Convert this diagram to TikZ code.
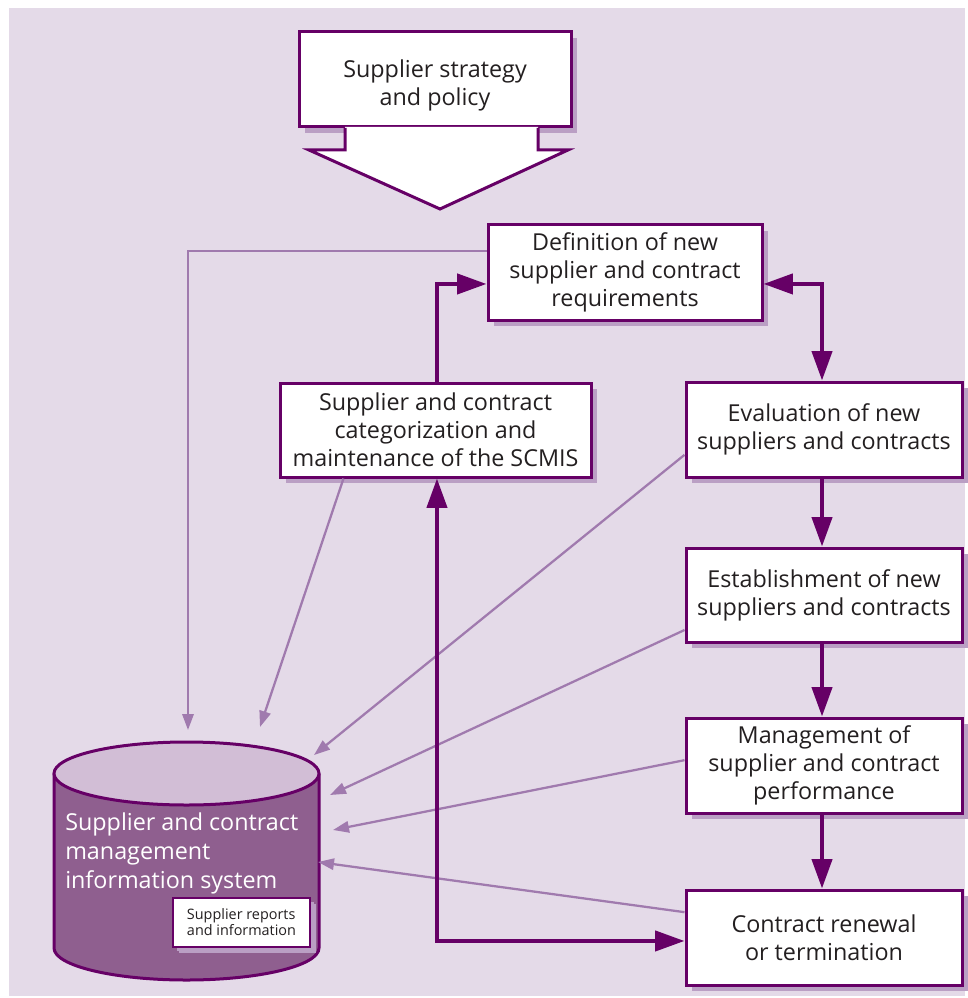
\documentclass[tikz,border=0pt]{standalone}
\usepackage{fontspec}
\setmainfont{Open Sans}
\usetikzlibrary{arrows.meta,shadows}
\definecolor{bg}{HTML}{E4DAE8}
\definecolor{dark}{HTML}{660066}
\definecolor{light}{HTML}{A07AAE}
\definecolor{shad}{HTML}{BA9FC4}
\definecolor{cylside}{HTML}{8F5F8F}
\definecolor{cyltop}{HTML}{D2BED6}
\definecolor{txt}{HTML}{231F20}
\tikzset{
  procbox/.style={draw=dark, line width=2.25pt, fill=white, text=txt, align=center,
    font=\fontsize{17.5}{21}\selectfont, inner sep=0pt,
    drop shadow={shadow xshift=4.5pt, shadow yshift=-4.5pt, fill=shad, opacity=1}},
  darkarr/.style={draw=dark, line width=3pt, -{Triangle[length=22pt,width=15pt]}},
  lightarr/.style={draw=light, line width=1.7pt, -{Triangle[length=12pt,width=8.5pt]}},
}
\begin{document}
\begin{tikzpicture}[x=0.75pt,y=-0.75pt]
\useasboundingbox (0,0) rectangle (967,998);
\fill[bg] (9,8) rectangle (965,996);

% top box and big arrow
\node[procbox, minimum width=272*0.75pt, minimum height=95*0.75pt] (strat) at (435,79.5) {\raisebox{-4.5pt}[\height][\depth]{\parbox{180pt}{\centering Supplier strategy\\and policy}}};
\fill[white] (345,127) -- (345,150) -- (309,150) -- (440,209) -- (568,150) -- (538,150) -- (538,127) -- cycle;
\draw[dark, line width=2.25pt, line join=miter] (345,128) -- (345,150) -- (309,150) -- (440,209) -- (568,150) -- (538,150) -- (538,128);

% process boxes
\node[procbox, minimum width=274*0.75pt, minimum height=95*0.75pt] (def) at (625,272.5) {Definition of new\\supplier and contract\\requirements};
\node[procbox, minimum width=311*0.75pt, minimum height=94*0.75pt] (cat) at (435.5,430) {Supplier and contract\\categorization and\\maintenance of the SCMIS};
\node[procbox, minimum width=276*0.75pt, minimum height=95*0.75pt] (eval) at (824,429.5) {Evaluation of new\\suppliers and contracts};
\node[procbox, minimum width=276*0.75pt, minimum height=94*0.75pt] (est) at (824,595) {Establishment of new\\suppliers and contracts};
\node[procbox, minimum width=276*0.75pt, minimum height=95*0.75pt] (mgmt) at (824,765.5) {Management of\\supplier and contract\\performance};
\node[procbox, minimum width=276*0.75pt, minimum height=95*0.75pt] (renew) at (824,937.5) {Contract renewal\\or termination};

% cylinder
\fill[cylside] (54,773.5) -- (54,948) arc[start angle=180, end angle=0, x radius=132.5, y radius=32] -- (319,773.5) -- cycle;
\draw[dark, line width=2.25pt] (54,773.5) -- (54,948) arc[start angle=180, end angle=0, x radius=132.5, y radius=32] -- (319,773.5);
\draw[dark, line width=2.25pt, fill=cyltop] (186.5,773.5) ellipse [x radius=132.5, y radius=31.5];
\node[anchor=north west, text=white, align=left, font=\fontsize{17.5}{21.75}\selectfont, inner sep=0pt] (cyltext) at (65,812) {Supplier and contract\\management\\information system};
\node[procbox, font=\fontsize{10.8}{12}\selectfont, align=left, minimum width=137*0.75pt, minimum height=49*0.75pt, line width=1.5pt, drop shadow={shadow xshift=3pt, shadow yshift=-3pt, fill=shad, opacity=1}] (rep) at (241.5,922.5) {Supplier reports\\and information};

\coordinate (c1) at (188,730);
\coordinate (c2) at (260,727);
\coordinate (c3) at (314,755);
\coordinate (c4) at (330,795);
\coordinate (c5) at (333,830);
\coordinate (c6) at (318,862);

% light connectors
\draw[lightarr] ([yshift=16pt]def.west) -| (c1);
\draw[lightarr] ([xshift=48.75pt]cat.south west) -- (c2);
\draw[lightarr] ([yshift=-19pt]eval.west) -- (c3);
\draw[lightarr] ([yshift=-26.25pt]est.west) -- (c4);
\draw[lightarr] ([yshift=4pt]mgmt.west) -- (c5);
\draw[lightarr] ([yshift=19pt]renew.west) -- (c6);

% dark connectors
\draw[darkarr] ([xshift=1.1pt]cat.north) |- ([yshift=-8.6pt]def.west);
\draw[darkarr, {Triangle[length=22pt,width=15pt]}-{Triangle[length=22pt,width=15pt]}] ([yshift=-8.6pt]def.east) -| ([xshift=-1.5pt]eval.north);
\draw[darkarr] ([xshift=-1.5pt]eval.south) -- ([xshift=-1.5pt]est.north);
\draw[darkarr] ([xshift=-1.5pt]est.south) -- ([xshift=-1.5pt]mgmt.north);
\draw[darkarr] ([xshift=-1.5pt]mgmt.south) -- ([xshift=-1.5pt]renew.north);
\draw[darkarr, {Triangle[length=22pt,width=15pt]}-{Triangle[length=22pt,width=15pt]}] ([xshift=1.1pt]cat.south) |- ([yshift=-2.6pt]renew.west);
\end{tikzpicture}
\end{document}
